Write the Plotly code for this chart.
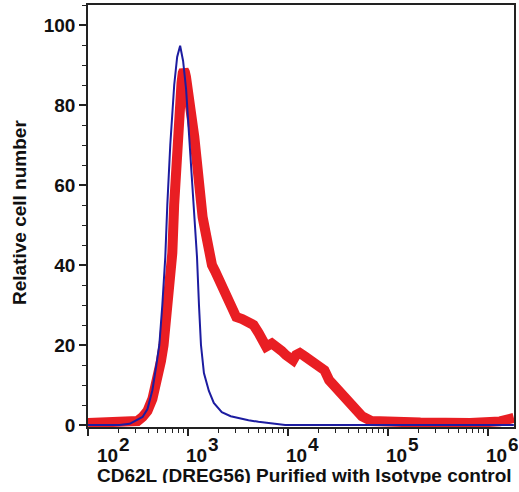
import math
import plotly.graph_objects as go

# Isotype control (blue) - fluorescence intensity vs relative cell number
iso_x = [100, 207, 261, 299, 351, 393, 440, 482, 516, 553, 592, 620, 664, 727, 778, 833,
         892, 955, 1023, 1096, 1173, 1228, 1285, 1346, 1440, 1614, 1808, 2172, 2667, 3200,
         4018, 5047, 6339, 7962, 9339, 1.8e6]
iso_y = [0, 0, 0.3, 1, 2, 4, 8.7, 15, 20, 30, 42, 55, 70, 85, 92, 94.8,
         91, 84, 72, 60, 50, 42, 30, 20, 13, 8.5, 5.5, 3.2, 2.2, 1.7,
         1.2, 0.8, 0.5, 0.3, 0, 0]

# CD62L (DREG56) Purified (red)
cd_x = [100, 261, 313, 351, 393, 440, 492, 536, 569, 605, 625, 667, 696, 726, 757, 795,
        832, 860, 885, 907, 930, 953, 1001, 1050, 1101, 1155, 1211, 1270, 1332, 1397, 1500,
        1573, 1733, 1858, 2089, 2349, 2641, 3031, 3478, 3991, 4518, 5076, 5621, 6024, 6870,
        7860, 8634, 9484, 10420, 11200, 12000, 13100, 14450, 16050, 17830, 20000, 23060,
        25680, 28600, 31860, 35470, 39500, 44000, 49000, 54600, 67700, 133000, 210000,
        660000, 930000, 1.31e6, 1.8e6]
cd_y = [0.5, 0.5, 1, 2, 3.5, 6.5, 11, 16, 20, 26, 30, 38, 43, 55, 65, 73,
        80, 85.5, 88, 88.7, 88.2, 87, 84, 80, 76, 72, 67, 60, 55, 52, 48,
        44, 40, 38.5, 35.5, 33.5, 29.6, 27, 26.5, 26, 25, 23, 20.5, 19.6, 20.4,
        19.6, 18.5, 17.5, 16.5, 16.2, 17.5, 18, 17.3, 16.5, 15.2, 14.2, 13.7,
        11.2, 10, 8.7, 7.7, 6.7, 5.2, 3.7, 2.2, 1, 0.6, 0.6,
        0.5, 0.5, 0.9, 1.8]

x_tick_vals = [100, 1000, 10000, 100000, 1000000]
x_tick_base = "10"
x_tick_exps = ["2", "3", "4", "5", "6"]
y_tick_vals = [0, 20, 40, 60, 80, 100]
x_title = "CD62L (DREG56) Purified with Isotype control"
y_title = "Relative cell number"

FONT = dict(family="Liberation Sans, Arial, sans-serif", size=19, color="#111111", weight="bold")

fig = go.Figure()
fig.add_trace(go.Scatter(x=cd_x, y=cd_y, mode="lines",
                         line=dict(color="rgb(232,18,24)", width=10), opacity=0.95,
                         showlegend=False))
fig.add_trace(go.Scatter(x=iso_x, y=iso_y, mode="lines",
                         line=dict(color="rgb(28,28,160)", width=2),
                         showlegend=False))

minor_x = [m * 10 ** e for e in range(2, 7) for m in range(2, 10)]

fig.update_xaxes(type="log", range=[2, 6.257], showgrid=False, zeroline=False,
                 showline=True, linecolor="#222", linewidth=1.5, mirror=True,
                 ticks="outside", ticklen=7, tickwidth=1.5, tickcolor="#222",
                 tickmode="array", tickvals=x_tick_vals, showticklabels=False,
                 minor=dict(ticks="outside", ticklen=4, tickwidth=1, tickcolor="#222",
                            tickmode="array", tickvals=minor_x))
fig.update_yaxes(range=[-0.5, 105], showgrid=False, zeroline=False,
                 showline=True, linecolor="#222", linewidth=1.5, mirror=True,
                 ticks="outside", ticklen=7, tickwidth=1.5, tickcolor="#222",
                 tickmode="array", tickvals=y_tick_vals, tickfont=FONT,
                 minor=dict(ticks="outside", ticklen=4, tickwidth=1, tickcolor="#222",
                            dtick=5, tick0=0))

annotations = []
for i, (v, e) in enumerate(zip(x_tick_vals, x_tick_exps)):
    dx = 7 if i == 0 else -4
    annotations.append(dict(
        x=math.log10(v), xref="x", y=0, yref="paper",
        xanchor="left", yanchor="middle", xshift=dx, yshift=-28, height=15,
        text=x_tick_base, showarrow=False, font=FONT))
    annotations.append(dict(
        x=math.log10(v), xref="x", y=0, yref="paper",
        xanchor="left", yanchor="middle", xshift=dx + 22, yshift=-17, height=13,
        text=e, showarrow=False, font=FONT))
annotations.append(dict(x=0.5, xref="paper", y=0, yref="paper", xanchor="center",
                        yanchor="middle", xshift=3, yshift=-48, height=16, text=x_title,
                        showarrow=False, font=FONT))
annotations.append(dict(x=0, xref="paper", y=0.5, yref="paper", xanchor="center",
                        yanchor="middle", xshift=-69, yshift=3, text=y_title,
                        textangle=-90, showarrow=False, font=FONT))

fig.update_layout(width=519, height=492, margin=dict(l=88, r=3, t=5, b=65),
                  paper_bgcolor="white", plot_bgcolor="white",
                  annotations=annotations, font=FONT)

fig.write_html("out.html", config={"displayModeBar": False},
               post_script="document.body.style.margin='0';document.body.style.padding='0';")
